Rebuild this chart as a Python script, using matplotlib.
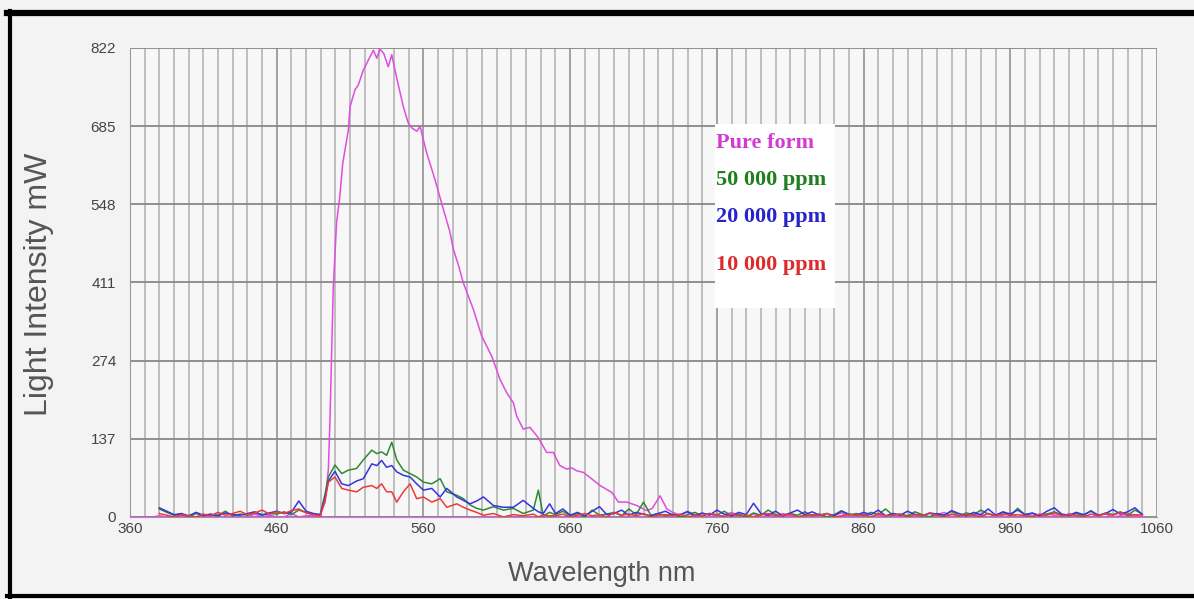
import numpy as np
import matplotlib
matplotlib.use('Agg')
import matplotlib.pyplot as plt
from matplotlib.ticker import MultipleLocator
import matplotlib.lines as mlines

# ---- data ----
# pure form: flat baseline, sharp rise ~490 nm, peak ~528 nm, long tail
pure_base = [0, 0, 0, 0, 2, 0, 0, 3, 0, 0, 0, 4, 0, 0, 2, 0, 0, 5, 0, 3, 0, 0, 6, 0, 2, 3]
pure_peak_wl = [489.5, 493, 495.2, 496.3, 498.5, 500.8, 503, 505, 508.8, 510, 513.4, 515.6,
                519, 522.5, 525.9, 528.2, 530.4, 533, 536, 538.4, 541.8, 546.3, 549.7, 552,
                555.4, 557.7, 562.2, 567.9, 573.6, 578, 580.4, 584, 587.2, 594, 599.7, 606.5,
                612.2, 616.7, 621.3, 623.5, 628, 632.6, 638.3, 644, 648.5, 653, 657.6, 661,
                664.4, 669, 673.6, 680.4, 688.4, 692.9, 698.6, 705.4, 712.2, 716, 721.3, 725.9]
pure_peak = [2, 26, 84, 171, 399, 516, 562, 620, 678, 719, 749, 757,
             783, 801, 818, 804, 820, 812, 789, 810, 769, 719, 690, 682,
             676, 684, 638, 591, 539, 500, 469, 440, 410, 364, 317, 282,
             241, 218, 200, 177, 154, 157, 139, 113, 113, 90, 84, 86,
             81, 78, 69, 55, 43, 26, 26, 20, 11, 15, 37, 14]
pure_tail = [8, 3, 10, 4, 2, 6, 0, 3, 8, 2, 0, 5, 0, 3, 0, 6, 2, 0, 4, 0, 5, 0, 3, 7, 0,
             2, 5, 0, 4, 0, 6, 3, 0, 5, 2, 0, 4, 8, 0, 3, 0, 5, 2, 6, 0, 3, 7, 0, 4, 2,
             0, 5, 3, 0, 6, 2, 4, 0, 3, 5, 0, 2, 6, 3, 0]

peak_wl = [489.5, 493, 495.2, 499.7, 504.3, 508.8, 514.5, 519, 524.8, 528.2, 531.5, 534.9,
           538.4, 541.8, 546.3, 550.9, 555.4, 560, 565.7, 571.4, 575.9, 582.7, 587.2,
           591.8, 596.3, 600.9, 607.7, 614.5, 621.3, 628, 634.9, 638.3, 641.7, 646]

g50_base = [14, 8, 3, 5, 0, 6, 2, 4, 3, 10, 2, 5, 3, 8, 4, 6, 5, 9, 4, 12, 8, 5, 3]
g50_peak = [3, 41, 70, 91, 76, 82, 85, 100, 117, 111, 114, 108,
            131, 100, 82, 76, 70, 61, 58, 67, 44, 38, 32,
            21, 15, 12, 18, 12, 15, 6, 12, 47, 2, 8]
g50_tail = [4, 10, 2, 6, 0, 12, 3, 5, 8, 2, 14, 4, 26, 3, 6, 2, 5, 0, 4, 8, 2, 6, 3, 10,
            2, 5, 0, 7, 3, 12, 4, 2, 6, 3, 9, 2, 5, 0, 4, 11, 3, 6, 2, 8, 4, 14, 3, 5, 2,
            9, 4, 0, 6, 3, 10, 2, 7, 4, 12, 5, 3, 8, 2, 15, 4, 6, 3, 5, 9, 4, 2,
            6, 3, 11, 2, 7, 4, 9, 3, 12, 5]

b20_base = [16, 10, 4, 6, 2, 8, 3, 5, 2, 7, 4, 3, 6, 9, 3, 7, 10, 6, 8, 28, 10, 6, 4]
b20_peak = [2, 35, 63, 80, 58, 55, 63, 67, 93, 90, 99, 87,
            90, 79, 73, 70, 58, 47, 50, 35, 50, 35, 29,
            23, 28, 35, 20, 17, 17, 29, 15, 9, 6, 23]
b20_tail = [6, 14, 3, 8, 2, 10, 18, 4, 6, 12, 3, 8, 5, 2, 6, 10, 3, 4, 9, 2, 7, 3, 12, 5,
            2, 8, 4, 24, 6, 3, 10, 2, 7, 12, 4, 9, 3, 6, 2, 10, 5, 3, 8, 4, 12, 2, 6, 3,
            10, 4, 2, 7, 5, 3, 11, 6, 2, 8, 4, 14, 3, 9, 5, 12, 4, 7, 2, 10, 16, 5, 3,
            8, 4, 10, 3, 6, 13, 5, 9, 16, 4]

r10_base = [6, 3, 0, 4, 2, 0, 5, 2, 8, 3, 6, 10, 4, 7, 12, 5, 9, 6, 11, 14, 7, 4, 2]
r10_peak = [2, 30, 61, 70, 50, 47, 44, 52, 55, 50, 58, 44,
            44, 26, 44, 58, 32, 35, 26, 32, 17, 23, 17,
            12, 8, 3, 6, 0, 4, 2, 5, 0, 3, 2]
r10_tail = [2, 5, 0, 3, 6, 2, 4, 0, 8, 3, 5, 2, 6, 0, 3, 4, 2, 5, 0, 3, 2, 6, 4, 0,
            5, 2, 3, 0, 4, 6, 2, 3, 5, 0, 2, 4, 3, 6, 0, 2, 5, 3, 4, 0, 6, 2, 3, 5,
            0, 4, 2, 6, 3, 0, 5, 2, 4, 3, 0, 6, 2, 5, 3, 4, 2, 0, 5, 3, 7, 2, 4,
            3, 0, 5, 2, 6, 3, 8, 2, 4, 3]

series = [
    ('Pure form', '#e04ce0', '#d23bd2', pure_base, 360, pure_peak_wl, pure_peak, pure_tail, 730),
    ('50 000 ppm', '#2f8a2f', '#1f7f1f', g50_base, 380, peak_wl, g50_peak, g50_tail, 650),
    ('20 000 ppm', '#3535e0', '#2424c8', b20_base, 380, peak_wl, b20_peak, b20_tail, 650),
    ('10 000 ppm', '#ec3a3a', '#dd2a2a', r10_base, 380, peak_wl, r10_peak, r10_tail, 650),
]

yticks = [0, 137, 274, 411, 548, 685, 822]
xticks = [360, 460, 560, 660, 760, 860, 960, 1060]

bg = '#f3f3f3'
fig = plt.figure(figsize=(11.94, 5.99), dpi=100, facecolor=bg)
ax = fig.add_axes([0.1089, 0.137, 0.8601, 0.783])
ax.set_facecolor('#f7f7f7')

# pure first so the coloured traces sit on top near the baseline
for name, col, tcol, base, b0, pwl, pv, tail, t0 in series:
    wl = np.concatenate([b0 + 5 * np.arange(len(base)), pwl, t0 + 5 * np.arange(len(tail))])
    val = np.concatenate([base, pv, tail])
    ax.plot(wl, val, color=col, lw=1.1, zorder=3)
ax.plot([360, 1052], [0, 0], color='#e04ce0', lw=2, zorder=2.5)

ax.set_xlim(360, 1060)
ax.set_ylim(0, 822)
ax.set_xticks(xticks)
ax.set_yticks(yticks)
ax.xaxis.set_minor_locator(MultipleLocator(10))
ax.grid(which='minor', axis='x', color='#b4b4b4', lw=1.2, zorder=1)
ax.grid(which='major', axis='x', color='#999999', lw=1.3, zorder=1)
ax.grid(which='major', axis='y', color='#888888', lw=1.3, zorder=1)
ax.tick_params(which='both', length=0, labelsize=11, labelcolor='#444444')
ax.tick_params(axis='x', pad=4)
ax.tick_params(axis='y', pad=10)
for lbl in ax.get_xticklabels() + ax.get_yticklabels():
    lbl.set_fontfamily('Liberation Sans')
for s in ['top', 'right']:
    ax.spines[s].set_visible(False)
ax.spines['left'].set_color('#999999')
ax.spines['bottom'].set_color('#999999')

ax.set_xlabel('Wavelength nm', fontsize=19.5, color='#555555', family='Liberation Sans')
ax.xaxis.set_label_coords(0.459, -0.095)
ax.set_ylabel('Light Intensity mW', fontsize=23, color='#555555', family='Liberation Sans')
ax.yaxis.set_label_coords(-0.074, 0.497)

# legend as a white box with coloured text
ax.add_patch(plt.Rectangle((0.5696, 0.445), 0.1168, 0.392, transform=ax.transAxes,
                           facecolor='white', edgecolor='none', zorder=4))
ypos = [0.797, 0.718, 0.639, 0.538]
for (name, col, tcol, *_), yy in zip(series, ypos):
    ax.text(0.5705, yy, name, transform=ax.transAxes, color=tcol, fontsize=16,
            family='Liberation Serif', fontweight='bold', va='center', ha='left', zorder=5)

# black frame around the figure
fig.add_artist(mlines.Line2D([0.008, 0.008], [0.003, 0.981], color='black', lw=3))
fig.add_artist(mlines.Line2D([0.006, 1.0], [0.979, 0.979], color='black', lw=4.5))
fig.add_artist(mlines.Line2D([0.006, 1.0], [0.005, 0.005], color='black', lw=3))

fig.savefig('out.png', dpi=100, facecolor=bg)
